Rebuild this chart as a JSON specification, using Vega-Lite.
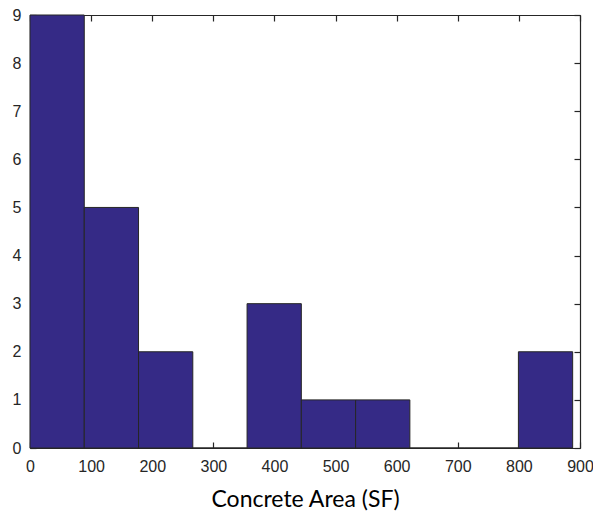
{
  "$schema": "https://vega.github.io/schema/vega-lite/v6.json",
  "autosize": "none",
  "width": 550,
  "height": 433,
  "padding": {"left": 30, "top": 15, "right": 13, "bottom": 64},
  "background": "white",
  "config": {
    "view": {"stroke": null},
    "axis": {
      "grid": false,
      "domainColor": "#262626",
      "tickColor": "#262626",
      "labelColor": "#262626",
      "labelFont": "Liberation Sans",
      "labelFontSize": 16,
      "tickSize": -6,
      "domainWidth": 1.2,
      "tickWidth": 1.2
    }
  },
  "data": {
    "values": [
      {"bin_start": 0, "bin_end": 88.8, "count": 9},
      {"bin_start": 88.8, "bin_end": 177.6, "count": 5},
      {"bin_start": 177.6, "bin_end": 266.4, "count": 2},
      {"bin_start": 266.4, "bin_end": 355.2, "count": 0},
      {"bin_start": 355.2, "bin_end": 444, "count": 3},
      {"bin_start": 444, "bin_end": 532.8, "count": 1},
      {"bin_start": 532.8, "bin_end": 621.6, "count": 1},
      {"bin_start": 621.6, "bin_end": 710.4, "count": 0},
      {"bin_start": 710.4, "bin_end": 799.2, "count": 0},
      {"bin_start": 799.2, "bin_end": 888, "count": 2}
    ]
  },
  "layer": [
    {
      "mark": {"type": "rect", "color": "#352a86", "stroke": "#262626", "strokeWidth": 1},
      "encoding": {
        "x": {
          "field": "bin_start", "type": "quantitative",
          "scale": {"domain": [0, 900], "nice": false, "zero": false},
          "axis": {"orient": "bottom", "values": [0,100,200,300,400,500,600,700,800,900], "labelFontSize": 16, "labelPadding": 16, "labelFlush": false, "labelOverlap": false, "title": "Concrete Area (SF)", "titleFont": "Lato", "titleFontSize": 23, "titleFontWeight": "normal", "titleColor": "#000000", "titlePadding": 14}
        },
        "x2": {"field": "bin_end"},
        "y": {
          "field": "count", "type": "quantitative",
          "scale": {"domain": [0, 9], "nice": false},
          "axis": {"orient": "left", "values": [0,1,2,3,4,5,6,7,8,9], "labelFontSize": 16, "labelPadding": 15, "labelFlush": false, "title": null}
        },
        "y2": {"datum": 0}
      }
    },
    {
      "mark": {"type": "point", "opacity": 0},
      "encoding": {
        "x": {
          "field": "bin_start", "type": "quantitative",
          "axis": {"orient": "top", "values": [0,100,200,300,400,500,600,700,800,900], "labels": false, "title": null}
        },
        "y": {
          "field": "count", "type": "quantitative",
          "axis": {"orient": "right", "values": [0,1,2,3,4,5,6,7,8,9], "labels": false, "title": null}
        }
      }
    }
  ],
  "resolve": {"axis": {"x": "independent", "y": "independent"}}
}
